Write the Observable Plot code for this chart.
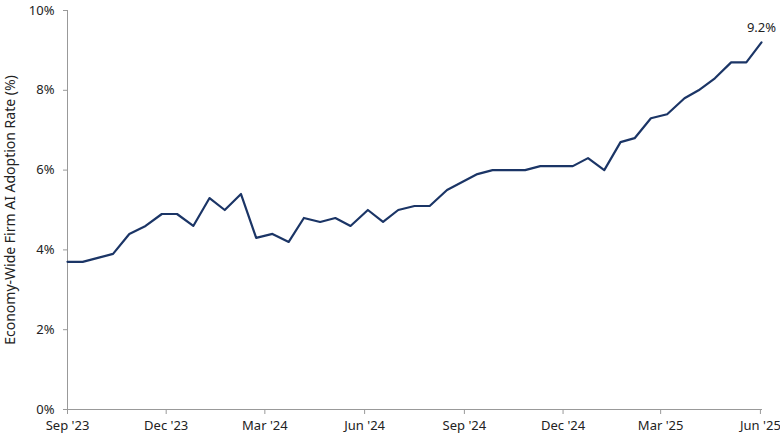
<!DOCTYPE html>
<html>
<head>
<meta charset="utf-8">
<script src="https://cdn.jsdelivr.net/npm/d3@7"></script>
<script src="https://cdn.jsdelivr.net/npm/@observablehq/plot@0.6"></script>
<style>
  html, body { margin: 0; padding: 0; background: #fff; }
  #chart { width: 780px; height: 440px; }
</style>
</head>
<body>
<div id="chart"></div>
<script>
const dates = [
  "2023-09-01","2023-09-15","2023-09-29","2023-10-13","2023-10-28","2023-11-12","2023-11-27","2023-12-11","2023-12-26",
  "2024-01-10","2024-01-24","2024-02-08","2024-02-22","2024-03-08","2024-03-23","2024-04-06","2024-04-21","2024-05-05",
  "2024-05-19","2024-06-04","2024-06-18","2024-07-02","2024-07-17","2024-07-31","2024-08-16","2024-08-30","2024-09-13",
  "2024-09-27","2024-10-12","2024-10-27","2024-11-10","2024-11-25","2024-12-10","2024-12-24","2025-01-08","2025-01-23",
  "2025-02-05","2025-02-20","2025-03-07","2025-03-23","2025-04-05","2025-04-20","2025-05-05","2025-05-19","2025-06-02"
];
const rates = [
  3.7, 3.7, 3.8, 3.9, 4.4, 4.6, 4.9, 4.9, 4.6,
  5.3, 5.0, 5.4, 4.3, 4.4, 4.2, 4.8, 4.7, 4.8,
  4.6, 5.0, 4.7, 5.0, 5.1, 5.1, 5.5, 5.7, 5.9,
  6.0, 6.0, 6.0, 6.1, 6.1, 6.1, 6.3, 6.0, 6.7,
  6.8, 7.3, 7.4, 7.8, 8.0, 8.3, 8.7, 8.7, 9.2
];
const xTickDates = ["2023-09-01","2023-12-01","2024-03-01","2024-06-01","2024-09-01","2024-12-01","2025-03-01","2025-06-01"];
const xTickLabels = ["Sep '23","Dec '23","Mar '24","Jun '24","Sep '24","Dec '24","Mar '25","Jun '25"];
const yTicks = [0, 2, 4, 6, 8, 10];
const yLabel = "Economy-Wide Firm AI Adoption Rate (%)";

const parse = d3.utcParse("%Y-%m-%d");
const data = dates.map((d, i) => ({date: parse(d), rate: rates[i]}));
const xTicks = xTickDates.map(parse);
const last = data[data.length - 1];

const chart = Plot.plot({
  width: 780,
  height: 440,
  marginLeft: 67,
  marginRight: 19,
  marginTop: 10,
  marginBottom: 31,
  style: {fontFamily: "'Noto Sans', sans-serif", fontSize: "13px", color: "#222", background: "#fff"},
  x: {type: "utc", domain: [data[0].date, last.date]},
  y: {domain: [0, 10]},
  marks: [
    Plot.axisX({
      ticks: xTicks,
      tickFormat: d => xTickLabels[xTicks.findIndex(t => +t === +d)],
      tickSize: 5,
      tickPadding: 6,
      stroke: "#999",
      fontSize: 13,
      label: null
    }),
    Plot.axisY({
      ticks: yTicks,
      tickFormat: d => d + "%",
      tickSize: 4,
      tickPadding: 9,
      stroke: "#999",
      fontSize: 13,
      label: null
    }),
    Plot.axisY({
      ticks: [],
      tickSize: 0,
      label: yLabel,
      labelAnchor: "center",
      labelArrow: "none",
      labelOffset: 62,
      fontSize: 14
    }),
    Plot.frame({anchor: "left", stroke: "#999"}),
    Plot.frame({anchor: "bottom", stroke: "#999"}),
    Plot.line(data, {x: "date", y: "rate", stroke: "#1b3566", strokeWidth: 2.2}),
    Plot.text([last], {x: "date", y: "rate", text: d => d.rate.toFixed(1) + "%", dy: -15, fontSize: 13, fill: "#222"})
  ]
});
document.getElementById("chart").appendChild(chart);
</script>
</body>
</html>
